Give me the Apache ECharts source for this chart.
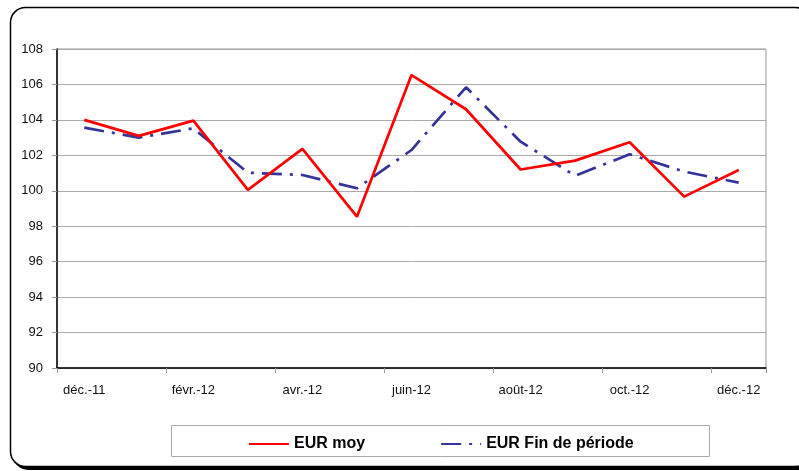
<!DOCTYPE html>
<html>
<head>
<meta charset="utf-8">
<script src="https://cdn.jsdelivr.net/npm/echarts@6/dist/echarts.min.js"></script>
<style>
  html, body { margin: 0; padding: 0; background: #fff; }
  #chart { width: 799px; height: 471px; }
</style>
</head>
<body>
<div id="chart"></div>
<script>
const months = ['déc.-11', 'janv.-12', 'févr.-12', 'mars-12', 'avr.-12', 'mai-12', 'juin-12',
  'juil.-12', 'août-12', 'sept.-12', 'oct.-12', 'nov.-12', 'déc.-12']
const eurMoy = [104.0, 103.1, 103.96, 100.05, 102.36, 98.54, 106.53, 104.6, 101.2, 101.7, 102.74, 99.67, 101.17]
const eurFin = [103.56, 103.0, 103.52, 101.02, 100.89, 100.14, 102.3, 105.84, 102.77, 100.85, 102.06, 101.08, 100.46]

const chart = echarts.init(document.getElementById('chart'))
const font = 'Liberation Sans, Arial, sans-serif'

chart.setOption({
  animation: false,
  textStyle: { fontFamily: font },
  graphic: [
    {
      // ombre du cadre
      type: 'rect', z: -12,
      shape: { x: 13, y: 10, width: 800, height: 460, r: 15 },
      style: { fill: '#000' }
    },
    {
      // cadre arrondi
      type: 'rect', z: -10,
      shape: { x: 10.5, y: 7.5, width: 800, height: 459, r: 15 },
      style: { fill: '#fff', stroke: '#000', lineWidth: 1.5 }
    },
    {
      // cadre de la légende
      type: 'rect', z: -5,
      shape: { x: 171.5, y: 425.5, width: 538, height: 31 },
      style: { fill: '#fff', stroke: '#aaa', lineWidth: 1 }
    }
  ],
  grid: {
    left: 57, right: 33, top: 49, bottom: 103,
    show: true, borderColor: '#999', borderWidth: 1, backgroundColor: 'transparent'
  },
  legend: {
    left: 243, top: 431,
    itemWidth: 40, itemHeight: 12, itemGap: 75,
    itemStyle: { opacity: 0 },
    textStyle: { fontFamily: font, fontWeight: 'bold', fontSize: 16, color: '#000' },
    data: ['EUR moy', 'EUR Fin de période']
  },
  xAxis: {
    type: 'category',
    data: months,
    boundaryGap: true,
    axisLine: { lineStyle: { color: '#000', width: 1.5 } },
    axisTick: { show: true, interval: 1, length: 5, lineStyle: { color: '#999' } },
    axisLabel: { interval: 1, color: '#111', fontSize: 13, margin: 16, fontFamily: font }
  },
  yAxis: {
    type: 'value',
    min: 90, max: 108, interval: 2,
    axisLine: { show: true, lineStyle: { color: '#000', width: 1.5 } },
    axisTick: { show: true, length: 5, lineStyle: { color: '#999' } },
    axisLabel: { color: '#111', fontSize: 13, margin: 14, fontFamily: font },
    splitLine: { lineStyle: { color: '#aaa', width: 1 } }
  },
  series: [
    {
      name: 'EUR moy',
      type: 'line',
      data: eurMoy,
      showSymbol: false,
      symbol: 'none',
      itemStyle: { color: '#ff0000' },
      lineStyle: { color: '#ff0000', width: 2.7 },
      z: 3
    },
    {
      name: 'EUR Fin de période',
      type: 'line',
      data: eurFin,
      showSymbol: false,
      symbol: 'none',
      itemStyle: { color: '#333399' },
      lineStyle: { color: '#333399', width: 2.7, type: [20, 8, 3, 8] },
      z: 2
    }
  ]
})
</script>
</body>
</html>
